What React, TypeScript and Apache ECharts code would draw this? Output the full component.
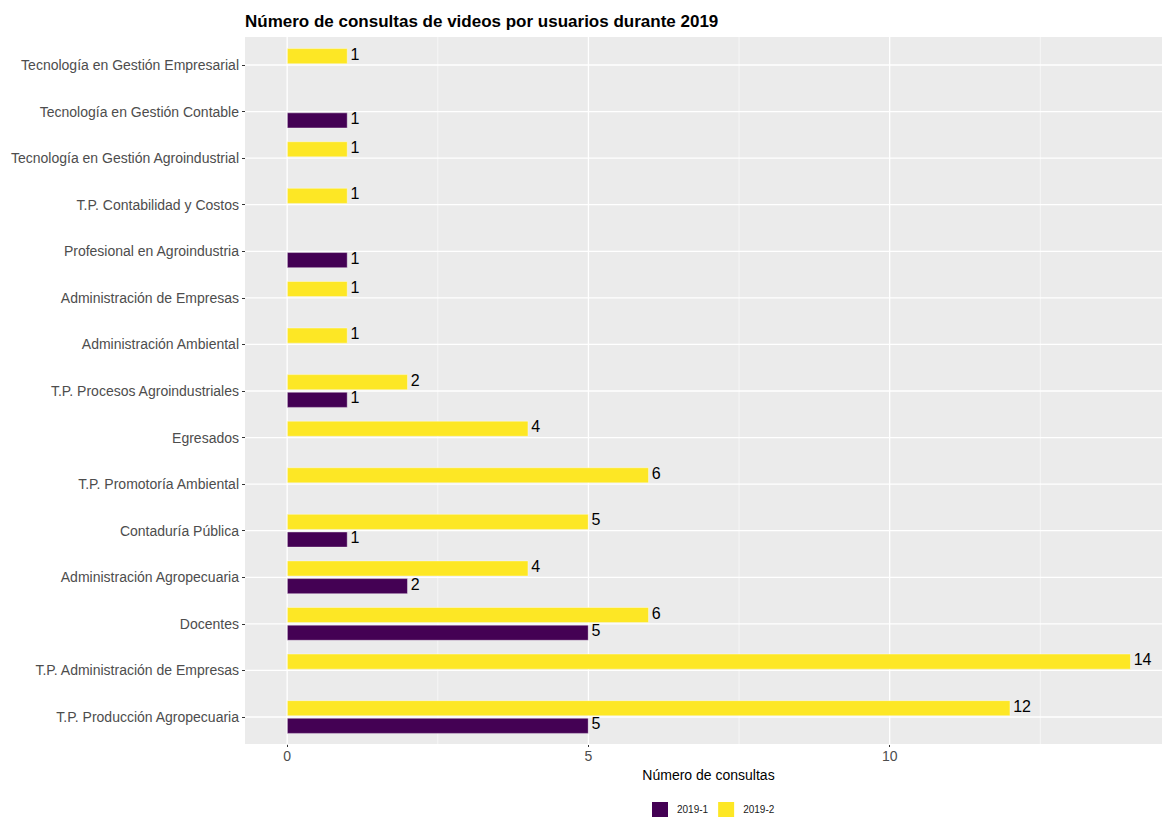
import React, { useEffect, useRef } from "react";
import * as echarts from "echarts";

const categories = [
  "T.P. Producción Agropecuaria",
  "T.P. Administración de Empresas",
  "Docentes",
  "Administración Agropecuaria",
  "Contaduría Pública",
  "T.P. Promotoría Ambiental",
  "Egresados",
  "T.P. Procesos Agroindustriales",
  "Administración Ambiental",
  "Administración de Empresas",
  "Profesional en Agroindustria",
  "T.P. Contabilidad y Costos",
  "Tecnología en Gestión Agroindustrial",
  "Tecnología en Gestión Contable",
  "Tecnología en Gestión Empresarial",
];

const values2019_1 = [5, null, 5, 2, 1, null, null, 1, null, null, 1, null, null, 1, null];
const values2019_2 = [12, 14, 6, 4, 5, 6, 4, 2, 1, 1, null, 1, 1, null, 1];

const majorBreaks = [0, 5, 10];
const minorBreaks = [2.5, 7.5, 12.5];
const seriesNames = ["2019-1", "2019-2"];
const colors = ["#440154", "#FDE725"];

const FONT = "Liberation Sans, Arial, Helvetica, sans-serif";

export default function App() {
  const ref = useRef<HTMLDivElement>(null);
  useEffect(() => {
    if (!ref.current) return;
    const chart = echarts.init(ref.current, null, { renderer: "svg" });
    const nCat = categories.length;
    const vLine = (vals: number[], width: number, name: string) => ({
      type: "custom",
      name,
      z: 1,
      silent: true,
      clip: false,
      data: vals.map((v) => [v, 0]),
      encode: { x: 0, y: 1 },
      renderItem: (params: any, api: any) => {
        const cs = params.coordSys;
        const pad = (cs.height / nCat) * 0.1;
        const x = api.coord([api.value(0), 0])[0];
        return {
          type: "line",
          shape: { x1: x, y1: cs.y - pad, x2: x, y2: cs.y + cs.height + pad },
          style: { stroke: "#ffffff", lineWidth: width },
        };
      },
    });
    const hLine = {
      type: "custom",
      name: "hgrid",
      z: 1,
      silent: true,
      clip: false,
      data: categories.map((_, i) => [0, i]),
      encode: { x: 0, y: 1 },
      renderItem: (params: any, api: any) => {
        const cs = params.coordSys;
        const y = api.coord([0, api.value(1)])[1];
        return {
          type: "line",
          shape: { x1: cs.x, y1: y, x2: cs.x + cs.width, y2: y },
          style: { stroke: "#ffffff", lineWidth: 1.3 },
        };
      },
    };
    const makeBar = (k: number, vals: (number | null)[]) => ({
      type: "bar",
      name: seriesNames[k],
      z: 2,
      data: vals,
      barWidth: 15.5,
      barGap: "14%",
      itemStyle: { color: colors[k], borderColor: "#ffffff", borderWidth: 0.4 },
      label: {
        show: true,
        position: "right",
        distance: 3,
        offset: [0, -2],
        color: "#000000",
        fontSize: 16,
        fontFamily: FONT,
        formatter: "{c}",
      },
    });
    chart.setOption({
      animation: false,
      textStyle: { fontFamily: FONT },
      title: {
        text: "Número de consultas de videos por usuarios durante 2019",
        left: 240,
        top: 8,
        textStyle: { fontSize: 17, fontWeight: "bold", color: "#000000", fontFamily: FONT },
      },
      graphic: [
        {
          type: "rect",
          z: -10,
          silent: true,
          shape: { x: 245, y: 37, width: 917, height: 707 },
          style: { fill: "#EBEBEB" },
        },
      ],
      legend: {
        data: seriesNames,
        left: 645,
        top: 795,
        itemWidth: 18,
        itemHeight: 17,
        itemGap: 8,
        icon: "rect",
        textStyle: { fontSize: 10, color: "#1a1a1a", fontFamily: FONT, padding: [0, 0, 0, 3] },
      },
      grid: { left: 245, top: 41.7, right: 0, bottom: 77.7, containLabel: false },
      xAxis: {
        type: "value",
        min: -0.7,
        max: 14.52,
        offset: 3.7,
        axisLine: { show: false },
        splitLine: { show: false },
        axisTick: { show: true, length: 3, customValues: majorBreaks, lineStyle: { color: "#333333" } },
        axisLabel: { customValues: majorBreaks, fontSize: 14, color: "#4D4D4D", margin: 5, fontFamily: FONT },
        name: "Número de consultas",
        nameLocation: "middle",
        nameGap: 23,
        nameTextStyle: { fontSize: 14, color: "#000000", fontFamily: FONT, padding: [0, 0, 0, 10] },
      },
      yAxis: {
        type: "category",
        data: categories,
        axisLine: { show: false, onZero: false },
        splitLine: { show: false },
        axisTick: { show: true, alignWithLabel: true, length: 3, lineStyle: { color: "#333333" } },
        axisLabel: { fontSize: 14, color: "#4D4D4D", margin: 6, fontFamily: FONT },
      },
      series: [
        vLine(minorBreaks, 0.6, "minor"),
        vLine(majorBreaks, 1.3, "major"),
        hLine,
        makeBar(1, values2019_2),
        makeBar(0, values2019_1),
      ],
    });
    return () => chart.dispose();
  }, []);
  return (
    <div
      ref={ref}
      style={{ position: "fixed", left: 0, top: 0, width: 1162, height: 818, background: "#ffffff" }}
    />
  );
}
